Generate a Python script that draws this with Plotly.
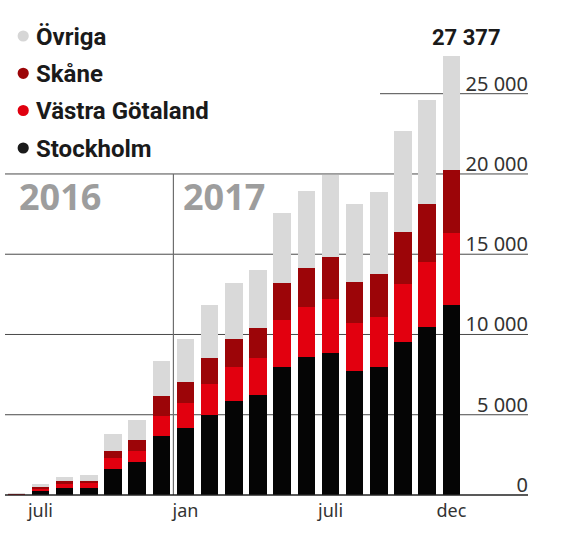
import plotly.graph_objects as go

# ---- data ----
months = ["2016-06", "2016-07", "2016-08", "2016-09", "2016-10", "2016-11", "2016-12",
          "2017-01", "2017-02", "2017-03", "2017-04", "2017-05", "2017-06", "2017-07",
          "2017-08", "2017-09", "2017-10", "2017-11", "2017-12"]
stockholm = [60, 250, 440, 450, 1600, 2075, 3680, 4155, 4985, 5840, 6230, 7955, 8616, 8866, 7746, 7953, 9552, 10447, 11855]
vastra = [25, 105, 260, 320, 685, 685, 1260, 1595, 1930, 2115, 2285, 2947, 3115, 3326, 2990, 3157, 3572, 4068, 4448]
skane = [15, 145, 150, 130, 440, 687, 1200, 1270, 1630, 1765, 1870, 2286, 2429, 2654, 2534, 2679, 3280, 3633, 3944]
ovriga = [20, 185, 290, 330, 1075, 1225, 2200, 2700, 3290, 3470, 3630, 4361, 4797, 5089, 4859, 5108, 6292, 6460, 7130]

series_names = ["Stockholm", "Västra Götaland", "Skåne", "Övriga"]
series_values = [stockholm, vastra, skane, ovriga]
series_colors = ["#050505", "#e2000f", "#9c0508", "#d9d9d9"]
legend_dot_colors = ["#1a1a1a", "#e0000f", "#9c0508", "#d6d6d6"]

x_tick_months = ["2016-07", "2017-01", "2017-07", "2017-12"]
x_tick_labels = ["juli", "jan", "juli", "dec"]
y_tick_vals = [0, 5000, 10000, 15000, 20000, 25000]
y_tick_labels = ["0", "5 000", "10 000", "15 000", "20 000", "25 000"]
year_labels = ["2016", "2017"]

W, H = 567, 538
BASE_Y = 495          # pixel row of the zero line
BELOW_PX = 6          # plot area extends this many px under the zero line
ML, MR, MT = 5, 36, 20
MB = H - BASE_Y - BELOW_PX
GRID_RIGHT = 528
PX_PER_UNIT = 0.016052
plot_w = W - ML - MR
plot_h = H - MT - MB
y_min = -BELOW_PX / PX_PER_UNIT
y_max = y_min + plot_h / PX_PER_UNIT
x_dom_end = (GRID_RIGHT - ML) / plot_w


def px_x(px):
    return (px - ML) / plot_w


def px_y(px):
    return 1 - (px - MT) / plot_h


fig = go.Figure()
for name, vals, col in zip(series_names, series_values, series_colors):
    fig.add_trace(go.Bar(x=months, y=vals, name=name, marker=dict(color=col, line=dict(width=0)),
                         showlegend=False, hoverinfo="x+y+name"))

grid_color = "#4a4a4a"
shapes = []
for v in y_tick_vals:
    x0 = px_x(380) if v == 25000 else 0
    shapes.append(dict(type="line", xref="paper", yref="y", x0=x0, x1=x_dom_end, y0=v, y1=v,
                       line=dict(color="#222222" if v == 0 else grid_color, width=1.4 if v == 0 else 1),
                       layer="below" if v != 0 else "above"))
# year divider between Dec 2016 and Jan 2017
shapes.append(dict(type="line", xref="x", yref="y", x0=6.5, x1=6.5, y0=0, y1=20000,
                   line=dict(color="#6e6e6e", width=1.2), layer="below"))

annotations = []
# legend (top = Övriga)
leg_y = [36, 73.3, 110.5, 148]
for i, (name, col) in enumerate(zip(series_names[::-1], legend_dot_colors[::-1])):
    yp = px_y(leg_y[i])
    shapes.append(dict(type="circle", xref="paper", yref="paper", xsizemode="pixel", ysizemode="pixel",
                       xanchor=px_x(23.2), yanchor=yp, x0=-5.6, x1=5.6, y0=-5.6, y1=5.6,
                       fillcolor=col, line=dict(width=0)))
    annotations.append(dict(text="<b>%s</b>" % name, xref="paper", yref="paper",
                            x=px_x(34), y=yp, xanchor="left", yanchor="middle",
                            yshift=-1, showarrow=False,
                            font=dict(family="Roboto", size=24, color="#1a1a1a")))

# year labels
annotations.append(dict(text="<b>%s</b>" % year_labels[0], xref="paper", yref="paper",
                        x=px_x(17), y=px_y(196),
                        xanchor="left", yanchor="middle", showarrow=False,
                        font=dict(family="Open Sans", size=36, color="#9d9d9d")))
annotations.append(dict(text="<b>%s</b>" % year_labels[1], xref="x", yref="paper",
                        x=6.5, xshift=8, y=px_y(196),
                        xanchor="left", yanchor="middle", showarrow=False,
                        font=dict(family="Open Sans", size=36, color="#9d9d9d")))

# total of last bar
total_last = stockholm[-1] + vastra[-1] + skane[-1] + ovriga[-1]
total_txt = "{:,}".format(total_last).replace(",", " ")
annotations.append(dict(text="<b>%s</b>" % total_txt, x=months[-1], y=total_last, xref="x", yref="y",
                        xanchor="center", yanchor="bottom", xshift=15, yshift=4, showarrow=False,
                        font=dict(family="Roboto", size=22, color="#1a1a1a")))

fig.update_layout(
    width=W, height=H,
    margin=dict(l=ML, r=MR, t=MT, b=MB, pad=0),
    paper_bgcolor="white", plot_bgcolor="white",
    barmode="stack", bargap=0.276,
    showlegend=False,
    shapes=shapes, annotations=annotations,
    xaxis=dict(type="category", domain=[0, x_dom_end], range=[-0.4675, 21.17], showgrid=False,
               anchor="free", position=px_y(BASE_Y),
               zeroline=False, showline=False, ticks="", tickmode="array", tickvals=x_tick_months,
               ticktext=x_tick_labels, ticklabelstandoff=3,
               tickfont=dict(family="Noto Sans", size=18, color="#333333")),
    yaxis=dict(range=[y_min, y_max], side="right", anchor="free", position=1.0,
               showgrid=False, zeroline=False, showline=False,
               ticks="", tickmode="array", tickvals=y_tick_vals, ticktext=y_tick_labels,
               ticklabelposition="inside top", ticklabelshift=4,
               tickfont=dict(family="Noto Sans", size=20, color="#333333")),
)

fig.write_html("out.html", config={"displayModeBar": False},
               post_script="document.body.style.margin='0px';")
